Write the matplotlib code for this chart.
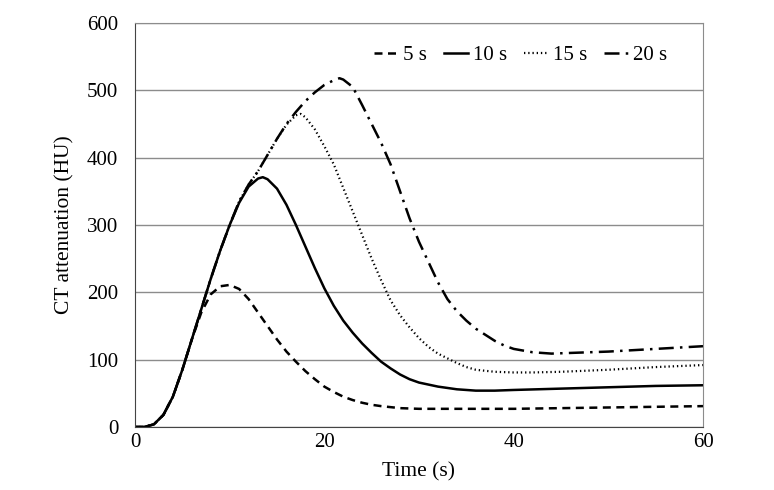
import matplotlib.pyplot as plt

# Data (time in s, attenuation in HU)
t_5 = [0, 1, 2, 3, 4, 5, 6, 7, 8, 9, 10, 11, 12, 13, 14, 15, 16, 17, 18, 19, 20,
       21, 22, 23, 24, 25, 26, 28, 30, 35, 40, 45, 50, 55, 60]
hu_5 = [0, 0, 4, 18, 45, 85, 130, 170, 197, 209, 211, 205, 190, 170, 150, 130, 112, 97, 83, 71, 60,
        52, 45, 40, 36, 33, 31, 28, 27, 27, 27, 28, 29, 30, 31]

t_10 = [0, 1, 2, 3, 4, 5, 6, 7, 8, 9, 10, 11, 12, 13, 13.5, 14, 15, 16, 17, 18, 19, 20,
        21, 22, 23, 24, 25, 26, 27, 28, 29, 30, 32, 34, 36, 38, 40, 45, 50, 55, 60]
hu_10 = [0, 0, 4, 18, 45, 85, 130, 175, 220, 262, 300, 333, 357, 369, 371, 368, 354, 330, 300, 268, 236, 206,
         180, 158, 140, 124, 110, 97, 87, 78, 71, 66, 60, 56, 54, 54, 55, 57, 59, 61, 62]

t_15 = [0, 1, 2, 3, 4, 5, 6, 7, 8, 9, 10, 11, 12, 13, 14, 15, 16, 17, 17.5, 18, 19, 20,
        21, 22, 23, 24, 25, 26, 27, 28, 29, 30, 31, 32, 33, 34, 35, 36, 38, 40, 42, 45, 50, 55, 60]
hu_15 = [0, 0, 4, 18, 45, 85, 130, 175, 220, 262, 300, 335, 360, 380, 404, 428, 449, 463, 465, 460, 442, 417,
         390, 355, 320, 285, 250, 218, 188, 166, 148, 132, 119, 109, 102, 95, 89, 85, 82, 81, 81, 82, 85, 89, 92]

t_20 = [0, 1, 2, 3, 4, 5, 6, 7, 8, 9, 10, 11, 12, 13, 14, 15, 16, 17, 18, 19, 20, 21, 21.6, 22,
        23, 24, 25, 26, 27, 28, 29, 30, 31, 32, 33, 34, 35, 36, 37, 38, 39, 40, 42, 44, 46, 50, 55, 60]
hu_20 = [0, 0, 4, 18, 45, 85, 130, 175, 220, 262, 300, 335, 360, 380, 404, 428, 450, 468, 484, 497, 508, 515, 518, 516,
         505, 478, 450, 422, 390, 350, 310, 275, 245, 215, 190, 172, 158, 146, 137, 128, 121, 116, 111, 109, 110, 112, 116, 120]

y_ticks = [0, 100, 200, 300, 400, 500, 600]
x_ticks = [0, 20, 40, 60]

plt.rcParams['font.family'] = ['Liberation Serif', 'DejaVu Serif']

fig = plt.figure(figsize=(7.74, 4.9), dpi=100)
ax = fig.add_axes([135 / 774, 1 - 427 / 490, (703 - 135) / 774, (427 - 23) / 490])

ax.plot(t_5, hu_5, color='black', linestyle=(0, (3.2, 2.2)), linewidth=1.8, label='5 s')
ax.plot(t_10, hu_10, color='black', linestyle='-', linewidth=1.8, label='10 s')
ax.plot(t_15, hu_15, color='black', linestyle=(0, (0.6, 1.3)), linewidth=1.6, label='15 s')
ax.plot(t_20, hu_20, color='black', linestyle=(0, (6, 2.5, 1, 2.5)), linewidth=1.8, label='20 s')

ax.set_xlim(0, 60)
ax.set_ylim(0, 600)
ax.set_xticks(x_ticks)
ax.set_yticks(y_ticks)
ax.tick_params(labelsize=15, length=0)
ax.tick_params(axis='y', pad=12)
ax.tick_params(axis='x', pad=4)
ax.yaxis.grid(True, color='#8c8c8c', linewidth=1.0)
ax.set_axisbelow(True)
for side in ['top', 'right']:
    ax.spines[side].set_color('#8c8c8c')
for side in ['left', 'bottom']:
    ax.spines[side].set_color('#444444')

ax.set_xlabel('Time (s)', fontsize=15.5, labelpad=8)
ax.set_ylabel('CT attenuation (HU)', fontsize=15.5, labelpad=9)

ax.legend(loc='upper right', bbox_to_anchor=(0.97, 0.99), ncol=4, frameon=False, fontsize=15,
          handlelength=1.15, handletextpad=0.25, columnspacing=0.8)

fig.savefig('out.png', dpi=100)
